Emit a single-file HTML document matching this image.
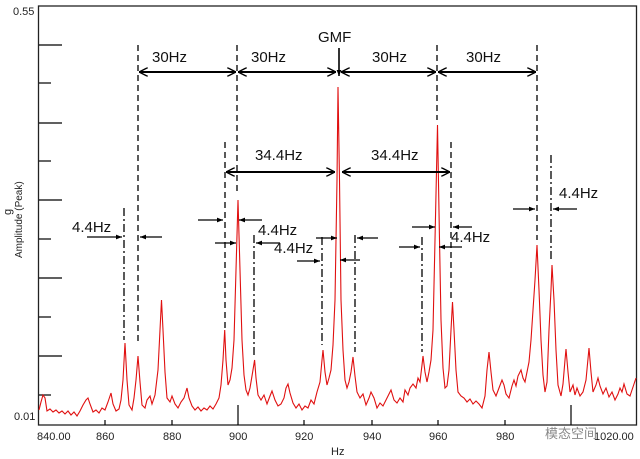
<!DOCTYPE html>
<html><head><meta charset="utf-8"><style>
html,body{margin:0;padding:0;background:#fff;}
svg{display:block;font-family:"Liberation Sans",Arial,sans-serif;}
</style></head><body>
<svg width="640" height="459" viewBox="0 0 640 459" xmlns="http://www.w3.org/2000/svg">
<defs>
<marker id="oa" viewBox="0 0 10 10" refX="10" refY="5" markerWidth="9" markerHeight="9" orient="auto-start-reverse" markerUnits="userSpaceOnUse"><path d="M0,0 L10,5 L0,10" fill="none" stroke="#000" stroke-width="1.6"/></marker>
<marker id="sa" viewBox="0 0 10 10" refX="10" refY="5" markerWidth="6" markerHeight="6" orient="auto" markerUnits="userSpaceOnUse"><path d="M0,1 L10,5 L0,9 z" fill="#000"/></marker>
</defs>
<rect x="38.5" y="6" width="598" height="419" fill="none" stroke="#222" stroke-width="1.3"/>
<g stroke="#000" stroke-width="1.2">
<line x1="39" y1="45" x2="62" y2="45"/><line x1="39" y1="83" x2="51" y2="83"/>
<line x1="39" y1="123" x2="62" y2="123"/><line x1="39" y1="161" x2="51" y2="161"/>
<line x1="39" y1="200" x2="62" y2="200"/><line x1="39" y1="239" x2="51" y2="239"/>
<line x1="39" y1="278" x2="62" y2="278"/><line x1="39" y1="317" x2="51" y2="317"/>
<line x1="39" y1="356" x2="62" y2="356"/><line x1="39" y1="395" x2="51" y2="395"/>
<line x1="238" y1="425" x2="238" y2="405"/><line x1="571" y1="425" x2="571" y2="405"/>
<line x1="105" y1="425" x2="105" y2="420"/><line x1="172" y1="425" x2="172" y2="420"/>
<line x1="304" y1="425" x2="304" y2="420"/><line x1="372" y1="425" x2="372" y2="420"/>
<line x1="438" y1="425" x2="438" y2="420"/><line x1="505" y1="425" x2="505" y2="420"/>
</g>
<path fill="none" stroke="#e01010" stroke-width="1.1" d="M39,410 L41,402 L43,395 L45,398 L47,411 L50,409 L53,412 L56,410 L59,413 L62,411 L65,414 L68,411 L71,415 L74,412 L77,416 L80,411 L83,405 L86,400 L88,398 L90,404 L93,412 L96,410 L99,413 L102,408 L105,410 L108,402 L111,393 L113,404 L116,411 L119,409 L121,400 L123,380 L125,343 L127,380 L129,405 L132,410 L134,398 L136,380 L138,356 L140,382 L142,405 L145,408 L147,400 L150,396 L152,404 L155,395 L158,370 L160,330 L161.5,300 L163,330 L165,372 L167,398 L170,402 L172,396 L175,404 L178,408 L181,402 L184,398 L187,388 L189,398 L192,406 L195,410 L198,407 L201,411 L204,408 L207,410 L210,406 L213,409 L216,404 L219,398 L221,385 L223,360 L224.7,330 L226,360 L228,385 L230,380 L232,368 L234,340 L236,270 L238,200 L240,270 L242,340 L244,375 L246,390 L248,395 L250,388 L252,376 L254.6,360 L256,378 L258,395 L261,400 L264,395 L267,404 L270,396 L272,391 L275,400 L278,406 L281,404 L284,398 L286,388 L288,384 L290,393 L293,403 L296,408 L299,404 L302,410 L305,406 L308,408 L311,400 L314,404 L317,392 L320,382 L322,360 L323,350 L325,372 L327,385 L329,378 L331,370 L333,345 L335,300 L337,180 L338,87 L339.5,180 L341,300 L343,350 L345,380 L347,388 L349,382 L351,372 L353,357 L355,376 L357,392 L360,398 L363,394 L366,405 L369,398 L371,392 L374,398 L377,408 L380,403 L383,406 L386,400 L389,394 L391,390 L394,400 L397,403 L400,398 L403,402 L405,390 L408,395 L410,388 L413,384 L416,388 L418,378 L420,382 L422,365 L423,356 L425,372 L427,382 L429,372 L431,360 L433,330 L435,240 L437.5,125 L439.5,240 L441,320 L443,368 L445,388 L447,386 L449,370 L451,330 L452.5,302 L454,330 L456,370 L458,392 L461,396 L464,398 L467,402 L470,399 L473,404 L476,401 L479,404 L482,408 L485,396 L487,370 L489,352 L491,372 L493,390 L496,396 L499,388 L502,380 L504,385 L506,394 L509,398 L512,386 L514,380 L516,386 L518,376 L521,370 L523,378 L525,382 L527,372 L529,362 L531,340 L533,310 L535,280 L537,245 L539,290 L541,340 L543,375 L545,392 L547,382 L549,330 L551,290 L552,265 L554,300 L556,350 L558,385 L561,396 L563,384 L565,360 L566,349 L568,372 L570,392 L573,385 L575,395 L577,388 L580,396 L583,392 L586,380 L589,348 L591,372 L593,392 L596,385 L598,378 L600,386 L603,394 L606,388 L609,397 L612,392 L615,400 L618,394 L620,388 L622,392 L624,384 L627,394 L630,396 L632,390 L634,384 L636,378"/>
<g font-size="11" fill="#222">
<text x="13" y="15">0.55</text><text x="14" y="420">0.01</text>
<text x="37" y="440">840.00</text><text x="96" y="440">860</text><text x="163" y="440">880</text>
<text x="229" y="440">900</text><text x="295" y="440">920</text><text x="363" y="440">940</text>
<text x="429" y="440">960</text><text x="496" y="440">980</text>
<text x="594" y="440">1020.00</text>
<text x="331" y="455">Hz</text>
<text transform="translate(22,258) rotate(-90)" font-size="10">Amplitude (Peak)</text>
<text transform="translate(11,215) rotate(-90)">g</text>
</g>
<g stroke="#000" stroke-width="1.3" fill="none">
<g stroke-dasharray="6,4">
<line x1="138" y1="45" x2="138" y2="345"/><line x1="237" y1="45" x2="237" y2="195"/>
<line x1="437" y1="45" x2="437" y2="120"/><line x1="537" y1="45" x2="537" y2="240"/>
<line x1="225" y1="142" x2="225" y2="328"/><line x1="451" y1="142" x2="451" y2="298"/>
</g>
<g stroke-dasharray="8,3,2,3">
<line x1="124" y1="208" x2="124" y2="340"/><line x1="254" y1="235" x2="254" y2="355"/>
<line x1="322" y1="237" x2="322" y2="345"/><line x1="355" y1="235" x2="355" y2="352"/>
<line x1="422" y1="237" x2="422" y2="352"/><line x1="551" y1="155" x2="551" y2="262"/>
</g>
<g stroke-width="2">
<line x1="139" y1="72" x2="236" y2="72" marker-start="url(#oa)" marker-end="url(#oa)"/>
<line x1="238" y1="72" x2="336" y2="72" marker-start="url(#oa)" marker-end="url(#oa)"/>
<line x1="341" y1="72" x2="436" y2="72" marker-start="url(#oa)" marker-end="url(#oa)"/>
<line x1="438" y1="72" x2="536" y2="72" marker-start="url(#oa)" marker-end="url(#oa)"/>
<line x1="226" y1="172" x2="335" y2="172" marker-start="url(#oa)" marker-end="url(#oa)"/>
<line x1="342" y1="172" x2="450" y2="172" marker-start="url(#oa)" marker-end="url(#oa)"/>
</g>
<line x1="339" y1="48" x2="339" y2="76" stroke-width="1.6" marker-end="url(#sa)"/>
<g stroke-width="1.2" marker-end="url(#sa)">
<line x1="87" y1="237" x2="122" y2="237"/><line x1="162" y1="237" x2="140" y2="237"/>
<line x1="198" y1="220" x2="223" y2="220"/><line x1="262" y1="220" x2="239" y2="220"/>
<line x1="215" y1="243" x2="236" y2="243"/><line x1="280" y1="243" x2="256" y2="243"/>
<line x1="316" y1="238" x2="337" y2="238"/><line x1="378" y1="238" x2="357" y2="238"/>
<line x1="297" y1="261" x2="320" y2="261"/><line x1="360" y1="260" x2="340" y2="260"/>
<line x1="412" y1="227" x2="435" y2="227"/><line x1="472" y1="227" x2="453" y2="227"/>
<line x1="399" y1="247" x2="420" y2="247"/><line x1="462" y1="247" x2="439" y2="247"/>
<line x1="513" y1="209" x2="535" y2="209"/><line x1="577" y1="209" x2="553" y2="209"/>
</g>
</g>
<g font-size="15" fill="#111">
<text x="152" y="62">30Hz</text><text x="251" y="62">30Hz</text><text x="372" y="62">30Hz</text><text x="466" y="62">30Hz</text>
<text x="318" y="42">GMF</text>
<text x="255" y="160">34.4Hz</text><text x="371" y="160">34.4Hz</text>
<text x="72" y="232">4.4Hz</text><text x="258" y="235">4.4Hz</text><text x="274" y="253">4.4Hz</text>
<text x="451" y="242">4.4Hz</text><text x="559" y="198">4.4Hz</text>
</g>
<g font-size="13" fill="#888"><text x="545" y="438">模态空间</text></g>
</svg>
</body></html>
